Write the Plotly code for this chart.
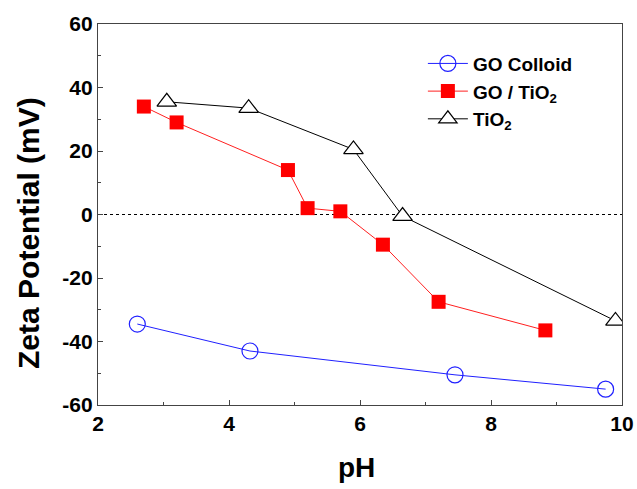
import plotly.graph_objects as go

go_colloid_ph = [2.6, 4.32, 7.45, 9.75]
go_colloid_zeta = [-34.5, -43.0, -50.5, -55.0]

go_tio2_ph = [2.7, 3.2, 4.9, 5.2, 5.7, 6.35, 7.2, 8.83]
go_tio2_zeta = [34.0, 29.0, 14.0, 2.0, 1.0, -9.5, -27.5, -36.5]

tio2_ph = [3.05, 4.3, 5.9, 6.65, 9.9]
tio2_zeta = [35.5, 33.5, 20.5, -0.5, -33.5]

names = ["GO Colloid", "GO / TiO<sub>2</sub>", "TiO<sub>2</sub>"]

x_ticks = [2, 4, 6, 8, 10]
y_ticks = [-60, -40, -20, 0, 20, 40, 60]
y_ticktext = [str(v) for v in y_ticks]  # plain hyphen minus

x_title = "pH"
y_title = "Zeta Potential (mV)"

font_family = "Liberation Sans, Arial, sans-serif"

fig = go.Figure()
fig.add_shape(type="line", xref="x", yref="y", x0=2, x1=10, y0=0, y1=0,
              line=dict(color="black", width=1, dash="dot"), layer="below")

fig.add_trace(go.Scatter(x=go_colloid_ph, y=go_colloid_zeta, name=names[0], mode="lines+markers",
                         line=dict(color="#2020ff", width=1),
                         marker=dict(symbol="circle-open", size=16, color="#2020ff", line=dict(width=1.2))))
fig.add_trace(go.Scatter(x=go_tio2_ph, y=go_tio2_zeta, name=names[1], mode="lines+markers",
                         line=dict(color="#ff2020", width=1),
                         marker=dict(symbol="square", size=14, color="#ff0000")))
fig.add_trace(go.Scatter(x=tio2_ph, y=tio2_zeta, name=names[2], mode="lines+markers",
                         line=dict(color="black", width=1),
                         marker=dict(symbol="triangle-up", size=17, color="white", line=dict(color="black", width=1.2))))

fig.add_annotation(text="<b>" + y_title + "</b>", xref="paper", yref="paper",
                   x=-0.134, y=0.451, xanchor="center", yanchor="middle", textangle=-90,
                   showarrow=False, font=dict(size=30, family=font_family, color="black"))
fig.add_annotation(text="<b>" + x_title + "</b>", xref="paper", yref="paper",
                   x=0.494, y=-0.163, xanchor="center", yanchor="middle",
                   showarrow=False, font=dict(size=28, family=font_family, color="black"))

fig.update_layout(
    width=637, height=489,
    margin=dict(l=98, r=15, t=24, b=84),
    paper_bgcolor="white", plot_bgcolor="white",
    font=dict(family=font_family, color="black"),
    showlegend=True,
    legend=dict(x=0.62, y=0.946, xanchor="left", yanchor="top", bgcolor="rgba(0,0,0,0)",
                font=dict(size=19, family=font_family, weight="bold"), tracegroupgap=0,
                itemwidth=40),
)
fig.update_xaxes(range=[2, 10], tickvals=x_ticks, ticktext=[str(v) for v in x_ticks],
                 ticks="inside", ticklen=5, showgrid=False, zeroline=False,
                 showline=True, linecolor="#444", linewidth=1.2, mirror=True, automargin=False,
                 minor=dict(dtick=1, ticks="inside", ticklen=3),
                 tickfont=dict(size=21, family=font_family, weight="bold"))
fig.update_yaxes(range=[-60, 60], tickvals=y_ticks, ticktext=y_ticktext,
                 ticks="inside", ticklen=5, showgrid=False, zeroline=False,
                 showline=True, linecolor="#444", linewidth=1.2, mirror=True, automargin=False,
                 minor=dict(dtick=10, ticks="inside", ticklen=3),
                 tickfont=dict(size=21, family=font_family, weight="bold"))

fig.write_html("out.html", post_script="document.body.style.margin='0';",
               config={"displayModeBar": False})
